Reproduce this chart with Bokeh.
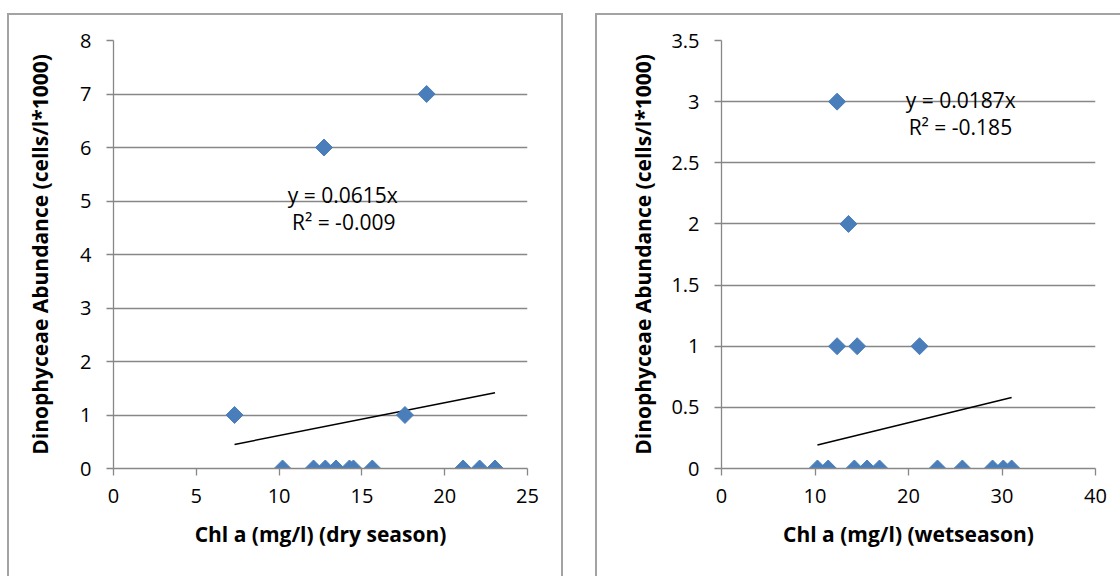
from bokeh.plotting import figure
from bokeh.layouts import row
from bokeh.models import Label, FixedTicker, Range1d
from bokeh.embed import file_html
from bokeh.resources import INLINE

# ---- data ----
dry_chl = [10.21, 12.08, 12.79, 13.44, 14.25, 14.49, 15.63, 21.11, 22.11, 23.04,
           7.31, 17.60, 12.71, 18.91]
dry_dino = [0, 0, 0, 0, 0, 0, 0, 0, 0, 0,
            1, 1, 6, 7]
wet_chl = [10.26, 11.41, 14.21, 15.57, 16.90, 23.10, 25.76, 28.99, 30.14, 31.03,
           12.36, 14.51, 21.18, 13.58, 12.36]
wet_dino = [0, 0, 0, 0, 0, 0, 0, 0, 0, 0,
            1, 1, 1, 2, 3]
dry_slope = 0.0615
wet_slope = 0.0187
dry_eq = ["y = 0.0615x", "R\u00b2 = -0.009"]
wet_eq = ["y = 0.0187x", "R\u00b2 = -0.185"]
dry_x_ticks = [0, 5, 10, 15, 20, 25]
dry_y_ticks = [0, 1, 2, 3, 4, 5, 6, 7, 8]
wet_x_ticks = [0, 10, 20, 30, 40]
wet_y_ticks = [0, 0.5, 1, 1.5, 2, 2.5, 3, 3.5]
wet_y_labels = ["0", "0.5", "1", "1.5", "2", "2.5", "3", "3.5"]
y_title = "Dinophyceae Abundance (cells/l*1000)"
dry_x_title = "Chl a (mg/l) (dry season)"
wet_x_title = "Chl a (mg/l) (wetseason)"

FONT = "Open Sans"
GRID = "#878787"
BLUE = "#4a7ebb"


def make_panel(xs, ys, slope, eq, xticks, yticks, ylabels, xtitle,
               width, height, borders, margin, styles, y_std, eq_pos):
    p = figure(width=width, height=height, output_backend="svg",
               toolbar_location=None, tools="",
               x_range=Range1d(xticks[0], xticks[-1]),
               y_range=Range1d(yticks[0], yticks[-1]),
               min_border_left=borders[0], min_border_right=borders[1],
               min_border_top=borders[2], min_border_bottom=borders[3],
               margin=margin, styles=styles)
    p.outline_line_color = None
    p.background_fill_color = "white"
    p.border_fill_color = "white"
    p.xgrid.grid_line_color = None
    p.ygrid.grid_line_color = GRID
    p.ygrid.grid_line_width = 1.3
    p.xaxis.ticker = FixedTicker(ticks=xticks)
    p.yaxis.ticker = FixedTicker(ticks=yticks)
    p.yaxis.major_label_overrides = {t: l for t, l in zip(yticks, ylabels)}
    for ax in (p.xaxis[0], p.yaxis[0]):
        ax.axis_line_color = GRID
        ax.axis_line_width = 1.3
        ax.major_tick_line_color = GRID
        ax.major_tick_line_width = 1.3
        ax.major_tick_in = 0
        ax.major_tick_out = 7
        ax.minor_tick_line_color = None
        ax.major_label_text_font = FONT
        ax.major_label_text_font_size = "20px"
        ax.major_label_text_color = "black"
        ax.axis_label_text_font = FONT
        ax.axis_label_text_font_size = "21px"
        ax.axis_label_text_font_style = "bold"
        ax.axis_label_text_color = "black"
    p.xaxis.major_label_standoff = 13
    p.yaxis.major_label_standoff = 15
    p.xaxis.axis_label = xtitle
    p.yaxis.axis_label = y_title
    p.xaxis.axis_label_standoff = 14
    p.yaxis.axis_label_standoff = y_std

    # trendline through origin, drawn over the data's x extent
    x0, x1 = min(xs), max(xs)
    p.line([x0, x1], [slope * x0, slope * x1], line_color="black", line_width=1.5)
    p.scatter(xs, ys, marker="square", size=12, angle=0.785398,
              fill_color=BLUE, line_color=BLUE)

    for txt, (lx, ly) in zip(eq, eq_pos):
        p.add_layout(Label(x=lx, y=ly, text=txt, text_font=FONT,
                           text_font_size="21px", text_color="black",
                           text_align="center", text_baseline="middle"))
    return p


frame = "2px solid #a3a3a3"
p1 = make_panel(dry_chl, dry_dino, dry_slope, dry_eq, dry_x_ticks, dry_y_ticks,
                [str(t) for t in dry_y_ticks], dry_x_title,
                556, 563, (104, 38, 25, 106), (13, 0, 0, 7),
                {"border-top": frame, "border-left": frame, "border-right": frame},
                23, [(13.84, 5.11), (13.9, 4.6)])
p2 = make_panel(wet_chl, wet_dino, wet_slope, wet_eq, wet_x_ticks, wet_y_ticks,
                wet_y_labels, wet_x_title,
                525, 563, (124, 27, 25, 110), (13, 0, 0, 32),
                {"border-top": frame, "border-left": frame},
                11, [(25.6, 3.016), (25.55, 2.79)])

layout = row(p1, p2, spacing=0)
open("out.html", "w").write(file_html(layout, INLINE))
